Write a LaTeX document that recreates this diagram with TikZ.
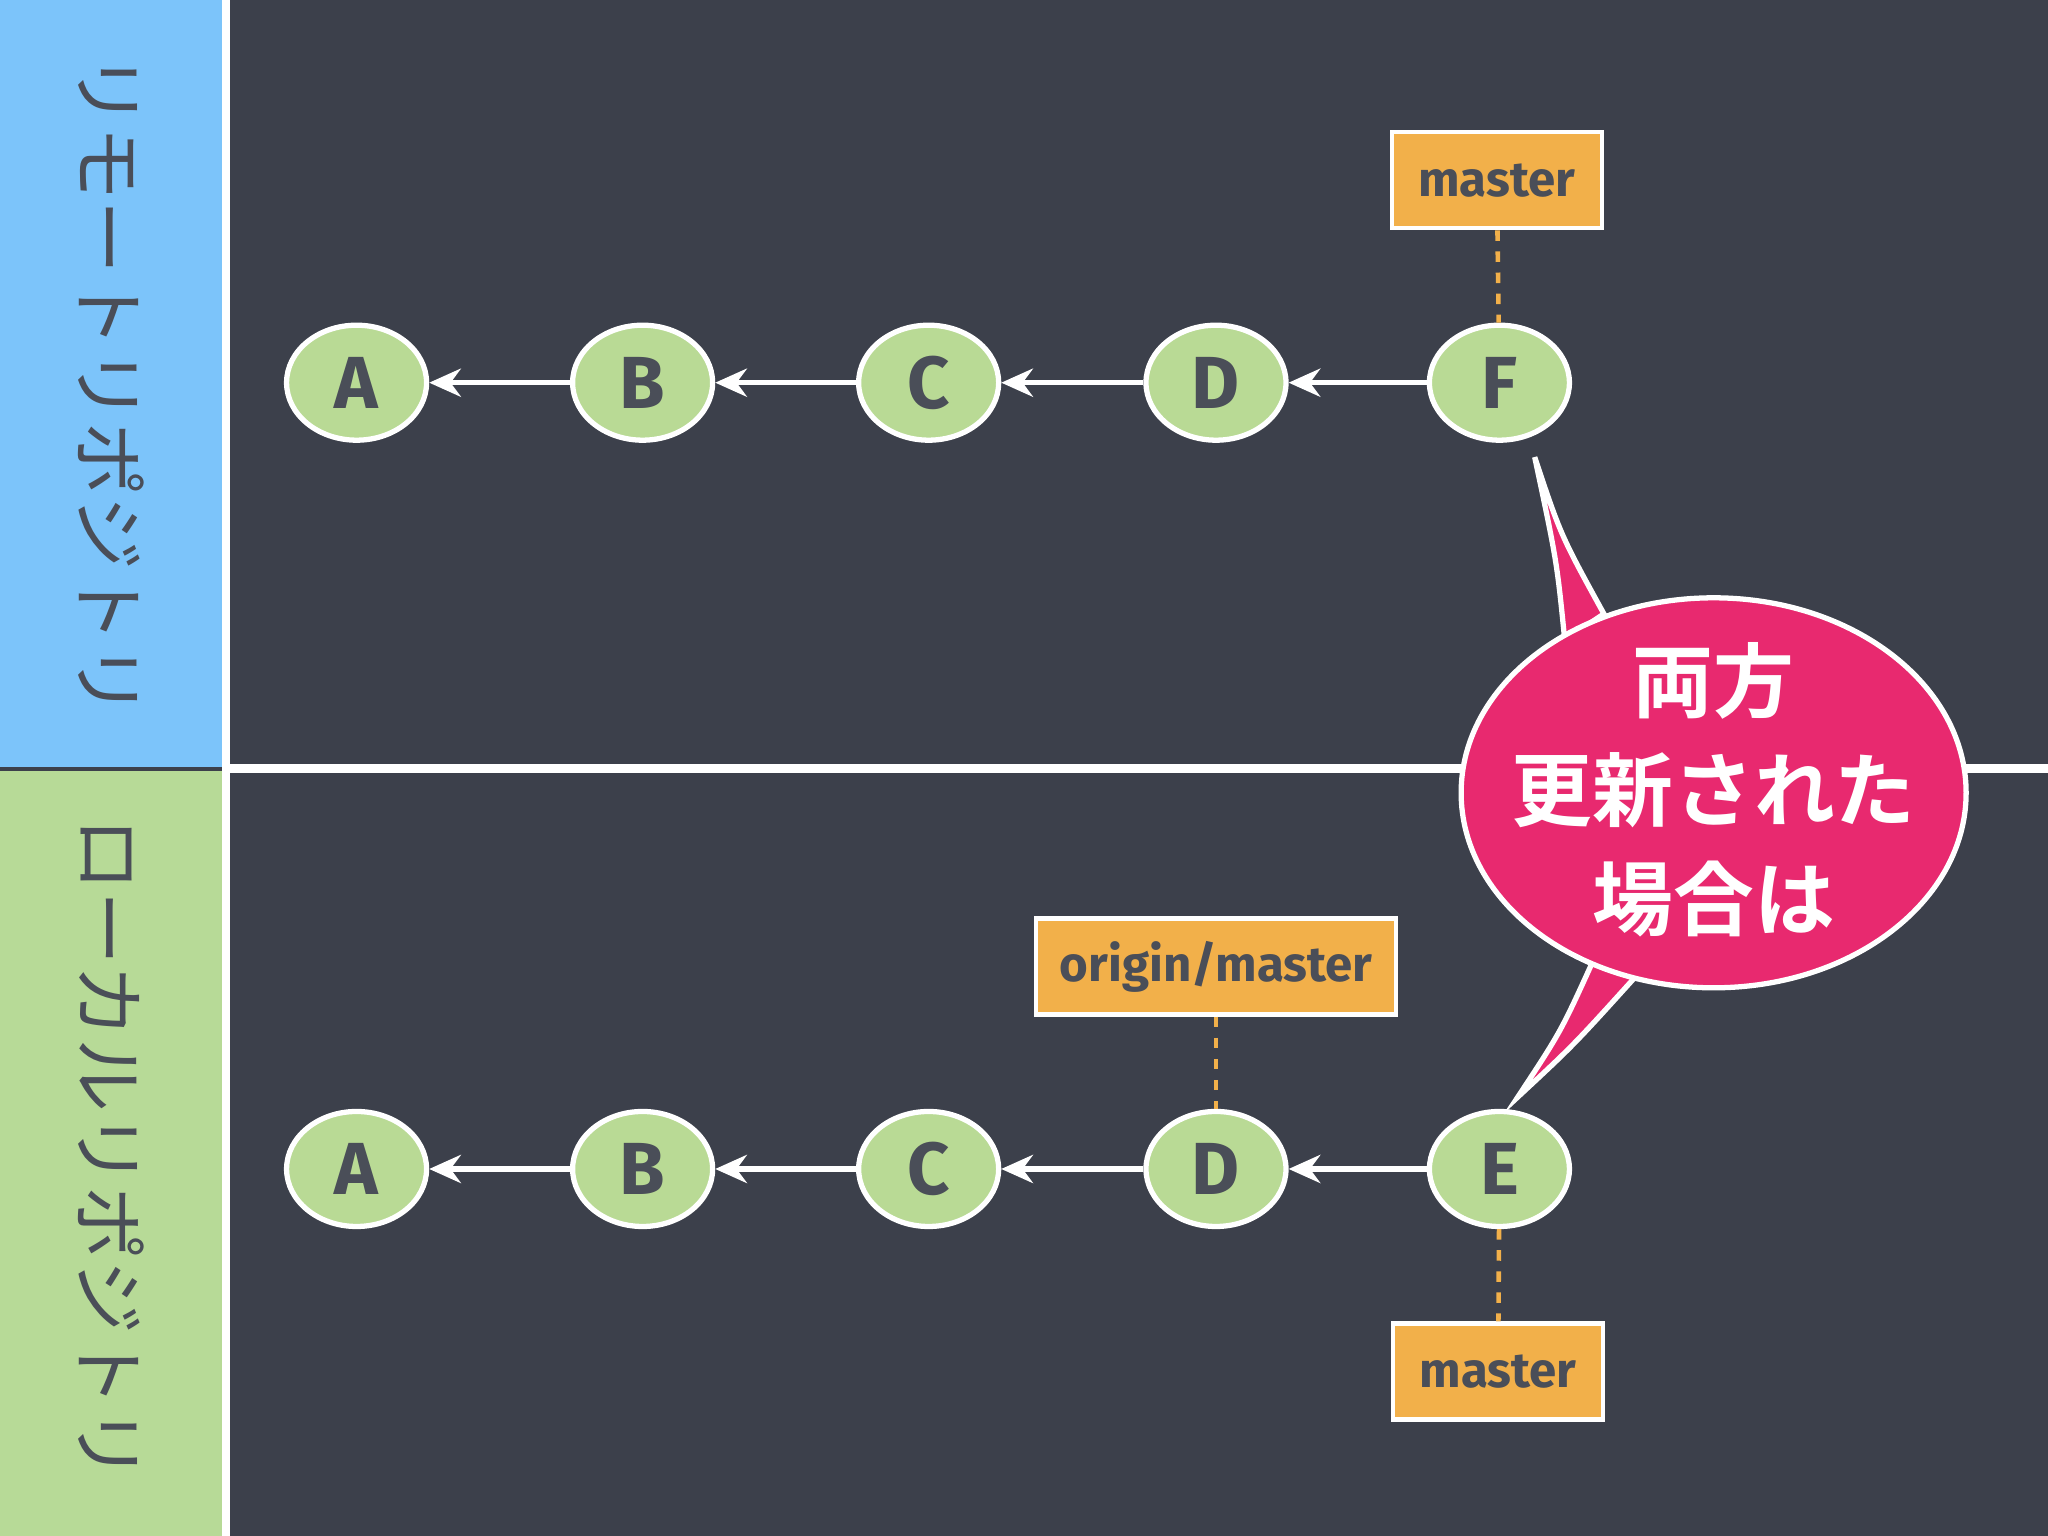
\documentclass[tikz,border=0pt]{standalone}
\usepackage{fontspec}
\usetikzlibrary{shapes.geometric,arrows.meta}
\setmainfont{Fira Sans}
\newfontfamily\jp{Noto Sans CJK JP}
\newfontfamily\jpb{Noto Sans CJK JP Bold}
\definecolor{bg}{HTML}{3C404B}
\definecolor{bluestrip}{HTML}{7CC4FA}
\definecolor{greenstrip}{HTML}{B7DA97}
\definecolor{nodegreen}{HTML}{B9DA95}
\definecolor{tagorange}{HTML}{F2B04A}
\definecolor{pink}{HTML}{E8296F}
\definecolor{txtgray}{HTML}{4A4E58}
\tikzset{
  commit/.style={ellipse,draw=white,line width=1.5pt,fill=nodegreen,minimum width=1.4cm,minimum height=1.15cm,inner sep=0pt,font=\bfseries\fontsize{21}{24}\selectfont,text=txtgray},
  tag/.style={draw=white,line width=1.2pt,fill=tagorange,inner sep=0pt,font=\bfseries\fontsize{14}{16}\selectfont,text=txtgray},
  parent/.style={white,line width=1.5pt,-{Stealth[length=9pt,width=8pt]}},
  link/.style={tagorange,line width=1.3pt,dash pattern=on 3pt off 3pt},
  side/.style={rotate=-90,font=\jp\fontsize{21}{22}\selectfont,text=txtgray}
}
\begin{document}
\begin{tikzpicture}[x=0.01306cm,y=-0.01306cm]
\useasboundingbox (0,0) rectangle (1568,1176);
\fill[bg] (0,0) rectangle (1568,1176);
\fill[bluestrip] (0,0) rectangle (171,587);
\fill[greenstrip] (0,590) rectangle (171,1176);
\draw[white,line width=2.5pt] (173,0) -- (173,1176);
\draw[white,line width=2.5pt] (171,588.5) -- (1568,588.5);
\node[side] (sr) at (85,295) {リモートリポジトリ};
\node[side] (sl) at (85,880) {ローカルリポジトリ};
\foreach \n/\x in {A/273,B/492,C/711,D/931,F/1148}
  \node[commit] (t\n) at (\x,293) {\n};
\foreach \n/\x in {A/273,B/492,C/711,D/931,E/1148}
  \node[commit] (b\n) at (\x,895) {\n};
\draw[parent] (tB) -- (tA); \draw[parent] (tC) -- (tB); \draw[parent] (tD) -- (tC); \draw[parent] (tF) -- (tD);
\draw[parent] (bB) -- (bA); \draw[parent] (bC) -- (bB); \draw[parent] (bD) -- (bC); \draw[parent] (bE) -- (bD);
\node[tag,minimum width=2.1cm,minimum height=0.96cm] (mt) at (1146,138) {master};
\node[tag,minimum width=3.6cm,minimum height=0.96cm] (om) at (931,740) {origin/master};
\node[tag,minimum width=2.1cm,minimum height=0.96cm] (mb) at (1147,1050) {master};
\draw[link] (mt) -- (tF);
\draw[link] (om) -- (bD);
\draw[link] (bE) -- (mb);
\coordinate (p1) at (1175,350);
\coordinate (p2) at (1162,840);
\draw[white,line width=1.5pt,fill=pink] (p1) .. controls (1195,410) .. (1228,470) -- (1198,490) .. controls (1192,430) .. cycle;
\draw[white,line width=1.5pt,fill=pink] (p2) .. controls (1195,790) .. (1220,735) -- (1252,748) .. controls (1205,800) .. cycle;
\node[ellipse,draw=white,line width=1.5pt,fill=pink,minimum width=5.05cm,minimum height=3.9cm] (bub) at (1312,607) {};
\fill[pink] (1226,478) -- (1196,498) -- (1210,520) -- (1240,500) -- cycle;
\fill[pink] (1220,728) -- (1250,742) -- (1262,720) -- (1230,705) -- cycle;
\node[font=\jpb\fontsize{23}{31}\selectfont,text=white,align=center] (bt) at (1312,605) {両方\\更新された\\場合は};
\end{tikzpicture}
\end{document}
